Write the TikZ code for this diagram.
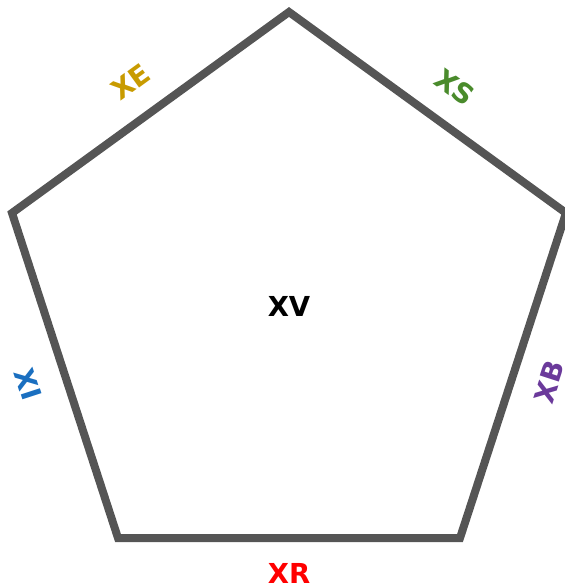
\documentclass[tikz,border=0pt]{standalone}
\usepackage{fontspec}
\setmainfont{DejaVu Sans}
\definecolor{edgegray}{HTML}{555555}
\definecolor{cxe}{HTML}{C89B00}
\definecolor{cxs}{HTML}{4A8B2C}
\definecolor{cxi}{HTML}{1A6FC0}
\definecolor{cxb}{HTML}{6B3A9B}
\definecolor{cxr}{HTML}{FF0000}
\tikzset{lbl/.style={font=\fontsize{27.5}{32}\selectfont\bfseries, inner sep=0pt}}
\begin{document}
\begin{tikzpicture}[x=1pt,y=-1pt]
\useasboundingbox (0,0) rectangle (564,588);
\coordinate (pt) at (289,12);
\coordinate (pl) at (12,213);
\coordinate (pbl) at (118,538);
\coordinate (pbr) at (460,538);
\coordinate (pr) at (566,213);
\draw[edgegray, line width=8pt, line join=miter] (pt) -- (pl) -- (pbl) -- (pbr) -- (pr) -- cycle;
\node[lbl] (xv) at (289,306) {XV};
\node[lbl, text=cxe, rotate=36] (xe) at (131,82) {XE};
\node[lbl, text=cxs, rotate=-36] (xs) at (455,87) {XS};
\node[lbl, text=cxi, rotate=-72] (xi) at (28,384) {XI};
\node[lbl, text=cxb, rotate=72] (xb) at (549,382) {XB};
\node[lbl, text=cxr] (xr) at (289,573) {XR};
\end{tikzpicture}
\end{document}
